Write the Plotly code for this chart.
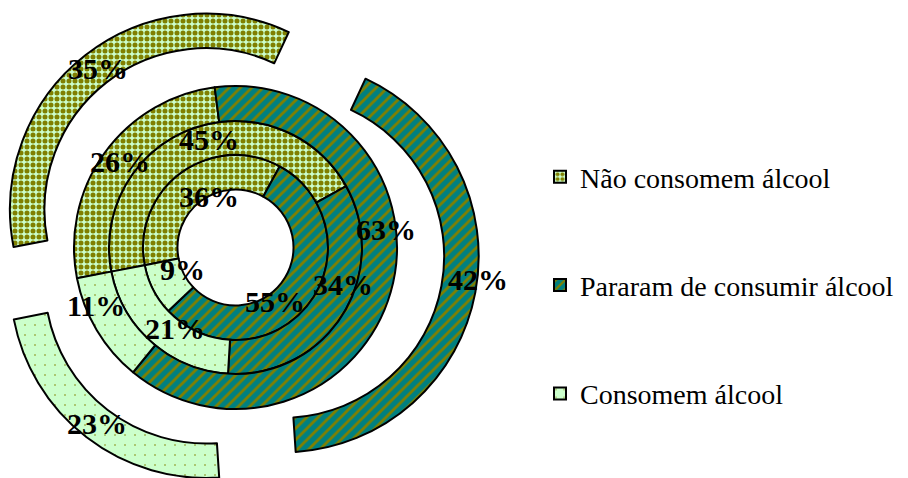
import math
import plotly.graph_objects as go

# ---------------- data ----------------
categories = ["Não consomem álcool", "Pararam de consumir álcool", "Consomem álcool"]
ring1_values = [36, 55, 9]    # innermost ring
ring2_values = [45, 34, 21]
ring3_values = [26, 63, 11]
ring4_values = [35, 42, 23]   # outer ring (exploded)
rings = [ring1_values, ring2_values, ring3_values, ring4_values]

# ---------------- layout / style ----------------
W, H = 908, 478
CX, CY = 235.5, 247.5                       # doughnut centre (px)
RADII = [58, 92.5, 126.5, 161.5, 196]       # hole, ring boundaries (px)
FIRST_ANGLE = 259                           # angle of first slice (deg, clockwise from 12 o'clock)
EXPLODE = 48                                # explosion of the outer ring (px)

# manual label nudges (px, like dragged data labels in the original), per ring / slice
LABEL_NUDGE = [
    [(18, 10), (-20, 8), (14, -12)],
    [(11, -5), (15, -21), (12, -1)],
    [(1, -2), (12, -58), (-16, -16)],
    [(2, 0), (20, -10), (0, 0)],
]

OLIVE = "#808000"
TEAL = "#008080"
PALE = "#CCFFCC"
styles = [
    dict(shape=".", bg=PALE, fg=OLIVE, size=6, solidity=0.55),
    dict(shape="/", bg=TEAL, fg=OLIVE, size=8, solidity=0.35),
    dict(shape=".", bg=PALE, fg=OLIVE, size=10, solidity=0.02),
]
TRANSPARENT = "rgba(0,0,0,0)"
LABEL_FONT = dict(family="Liberation Serif", size=30, color="black")
LEGEND_FONT = dict(family="Liberation Serif", size=28, color="black")


def domain_for(cx, cy, r):
    top, bottom = cy - r, cy + r
    if bottom > H:
        top -= bottom - H
        bottom = H
    if top < 0:
        bottom -= top
        top = 0
    left, right = cx - r, cx + r
    if left < 0:
        right -= left
        left = 0
    clamp = lambda v: min(1.0, max(0.0, v))
    return dict(x=[clamp(left / W), clamp(right / W)],
                y=[clamp(1 - bottom / H), clamp(1 - top / H)])


def ring_trace(values, r_in, r_out, cx, cy, visible):
    n = len(values)
    return go.Pie(
        values=values,
        labels=categories,
        sort=False,
        direction="clockwise",
        rotation=FIRST_ANGLE - 360,
        hole=r_in / r_out,
        domain=domain_for(cx, cy, r_out),
        textinfo="none",
        hoverinfo="label+percent",
        showlegend=False,
        marker=dict(
            colors=[styles[j]["bg"] if visible[j] else TRANSPARENT for j in range(n)],
            line=dict(color=["black" if visible[j] else TRANSPARENT for j in range(n)],
                      width=[2 if visible[j] else 0 for j in range(n)]),
            pattern=dict(
                shape=[styles[j]["shape"] for j in range(n)],
                bgcolor=[styles[j]["bg"] if visible[j] else TRANSPARENT for j in range(n)],
                fgcolor=[styles[j]["fg"] if visible[j] else TRANSPARENT for j in range(n)],
                size=[styles[j]["size"] for j in range(n)],
                solidity=[styles[j]["solidity"] for j in range(n)],
                fillmode="replace",
            ),
        ),
    )


fig = go.Figure()
annotations = []

for k, vals in enumerate(rings):
    r_in, r_out = RADII[k], RADII[k + 1]
    exploded = (k == len(rings) - 1)
    total = float(sum(vals))
    cum = 0.0
    for j, v in enumerate(vals):
        mid = math.radians(FIRST_ANGLE + 360.0 * (cum + v / 2.0) / total)
        cum += v
        cx, cy = CX, CY
        if exploded:
            cx = CX + EXPLODE * math.sin(mid)
            cy = CY - EXPLODE * math.cos(mid)
            if cy + r_out > H:
                cy = H - r_out
            fig.add_trace(ring_trace(vals, r_in, r_out, cx, cy,
                                     [i == j for i in range(len(vals))]))
        rm = (r_in + r_out) / 2.0
        lx = cx + rm * math.sin(mid) + LABEL_NUDGE[k][j][0]
        ly = cy - rm * math.cos(mid) + LABEL_NUDGE[k][j][1]
        annotations.append(dict(
            x=lx / W, y=1 - ly / H, xref="paper", yref="paper",
            text="<b>%d%%</b>" % v, showarrow=False,
            xanchor="center", yanchor="middle", font=LABEL_FONT,
        ))
    if not exploded:
        fig.add_trace(ring_trace(vals, r_in, r_out, CX, CY, [True] * len(vals)))

# legend entries (patterned swatches)
for j, name in enumerate(categories):
    s = styles[j]
    fig.add_trace(go.Bar(
        x=[None], y=[None], name=name, legendgroup=name, showlegend=True,
        hoverinfo="skip",
        marker=dict(color=s["bg"], line=dict(color="black", width=2),
                    pattern=dict(shape=s["shape"], bgcolor=s["bg"], fgcolor=s["fg"],
                                 size=s["size"], solidity=s["solidity"], fillmode="replace")),
    ))

fig.update_layout(
    template="none",
    width=W, height=H,
    margin=dict(l=0, r=0, t=0, b=0),
    paper_bgcolor="white", plot_bgcolor="white",
    xaxis=dict(visible=False), yaxis=dict(visible=False),
    showlegend=True,
    legend=dict(x=540 / W, xanchor="left", y=1 - 152 / H, yanchor="top",
                traceorder="grouped", tracegroupgap=69,
                font=LEGEND_FONT, bgcolor=TRANSPARENT),
    annotations=annotations,
)

fig.write_html("out.html")
